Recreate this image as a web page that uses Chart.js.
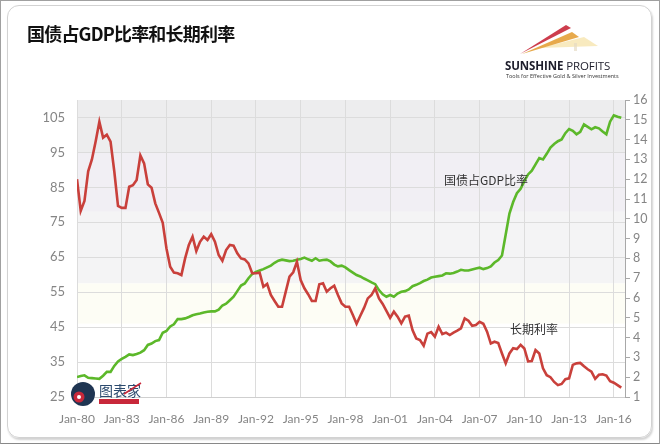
<!DOCTYPE html>
<html>
<head>
<meta charset="utf-8">
<script src="https://cdn.jsdelivr.net/npm/chart.js@4.4.0/dist/chart.umd.min.js"></script>
<style>
    html, body { margin: 0; padding: 0; background: #fff; }
    #frame { position: relative; width: 660px; height: 444px; overflow: hidden; background: #fff; }
    #edge { position: absolute; left: 0; top: 0; width: 660px; height: 444px; box-sizing: border-box; border: 1px solid #a0a0a0; border-bottom-color: #888; }
    #card { position: absolute; left: 7px; top: 5px; width: 643px; height: 431px; border: 1px solid #d2d2d2; border-radius: 12px; box-shadow: 1px 2px 2px rgba(0,0,0,0.18); }
    #chart { position: absolute; left: 0; top: 0; }
    #title { position: absolute; left: 27px; top: 20px; font: bold 18px "Noto Sans CJK SC", sans-serif; color: #111; letter-spacing: -0.8px; }
    .note { position: absolute; font: 12px "Noto Sans CJK SC", sans-serif; color: #333; }
    #logo { position: absolute; left: 500px; top: 20px; width: 130px; height: 40px; }
    #logoText { position: absolute; left: 505px; top: 58px; font: 11.5px "Open Sans", sans-serif; color: #1d1d2b; letter-spacing: -0.1px; white-space: nowrap; }
    #logoSub { position: absolute; left: 506px; top: 72px; font: 5.5px "Open Sans", sans-serif; color: #333; white-space: nowrap; }
    #mark { position: absolute; left: 70px; top: 379px; }
</style>
</head>
<body>
<div id="frame">
    <div id="card"></div>
    <canvas id="chart" width="660" height="444"></canvas>
    <div id="title">国债占GDP比率和长期利率</div>
    <svg id="logo" viewBox="0 0 130 40">
        <polygon points="40,28 84,17 98,26" fill="#f3d88a" opacity="0.55"/>
        <polygon points="22,34 72,12 79,17" fill="#e39a2c" opacity="0.85"/>
        <polygon points="20,34 66,5 71,8" fill="#c8283a" opacity="0.9"/>
        <rect x="74" y="23" width="3" height="8" fill="#e6dcc4" opacity="0.7"/>
    </svg>
    <div id="logoText"><b>SUNSHINE</b> PROFITS</div>
    <div id="logoSub">Tools for Effective Gold &amp; Silver Investments</div>
    <svg id="mark" width="100" height="32" viewBox="0 0 100 32">
        <circle cx="13" cy="15" r="12" fill="#1f3552"/>
        <circle cx="9" cy="18" r="5.5" fill="#c8283a"/>
        <circle cx="9" cy="18" r="2" fill="#fff"/>
        <text x="29" y="17" font-family="Noto Sans CJK SC" font-size="14" fill="#2b4a6e">图表家</text>
        <rect x="29" y="20" width="40" height="5" fill="#c8283a"/>
        <path d="M54 15 L71 4" stroke="#c8283a" stroke-width="1.5"/>
    </svg>
    <div class="note" style="left:444px; top:171px;">国债占GDP比率</div>
    <div class="note" style="left:510px; top:320px;">长期利率</div>
    <div id="edge"></div>
</div>
<script>
// Quarterly observations, first quarter of 1980 to third quarter of 2016
const startYear = 1980;
const quarterCount = 147;

// Government debt as % of GDP (left axis)
const debtToGdp = [
    30.7, 31.0, 31.2, 30.5,   30.4, 30.3, 30.2, 31.1,   32.2, 32.2, 33.9, 35.2,
    35.9, 36.5, 37.2, 37.0,   37.3, 37.7, 38.4, 39.9,   40.3, 41.0, 41.3, 43.4,
    43.9, 45.2, 45.8, 47.3,   47.3, 47.5, 47.9, 48.4,   48.7, 48.9, 49.2, 49.4,
    49.5, 49.5, 50.0, 51.2,   51.7, 52.7, 53.7, 55.3,   56.9, 57.5, 59.0, 60.2,
    60.8, 61.2, 61.6, 62.1,   62.6, 63.4, 64.0, 64.3,   64.1, 63.9, 64.0, 64.3,
    64.5, 64.9, 64.4, 64.0,   64.7, 64.0, 64.2, 64.3,   63.8, 62.9, 62.4, 62.6,
    62.1, 61.3, 60.6, 59.9,   59.5, 58.9, 58.4, 57.8,   57.3, 55.6, 54.4, 53.7,
    54.2, 53.7, 54.6, 55.1,   55.3, 55.8, 56.7, 57.1,   57.6, 58.2, 58.6, 59.2,
    59.4, 59.6, 59.8, 60.4,   60.3, 60.5, 60.9, 61.4,   61.2, 61.2, 61.5, 61.8,
    62.0, 61.6, 61.9, 62.4,   63.5, 64.2, 65.5, 71.5,   77.5, 80.8, 83.3, 84.6,
    86.8, 88.7, 89.8, 91.6,   93.4, 93.0, 94.6, 96.4,   97.4, 98.2, 98.7, 100.5,
    101.7, 101.2, 100.2, 100.9, 103.0, 102.3, 101.6, 102.2, 101.9, 101.0, 100.2, 103.8,
    105.6, 105.2, 104.9
];

// Long-term interest rate, % (right axis)
const longRate = [
    12.0, 10.4, 10.9, 12.4,   13.0, 13.9, 14.9, 14.1,   14.25, 13.9, 12.4, 10.65,
    10.55, 10.55, 11.62, 11.7, 11.96, 13.2, 12.8, 11.74, 11.57, 10.78, 10.3, 9.8,
    8.5, 7.58, 7.28, 7.25,    7.16, 8.0, 8.68, 9.1,     8.37, 8.84, 9.1, 8.93,
    9.22, 8.84, 8.17, 7.88,   8.42, 8.68, 8.64, 8.26,   8.0, 7.95, 7.75, 7.25,
    7.25, 7.28, 6.57, 6.71,   6.15, 5.85, 5.56, 5.56,   6.32, 7.08, 7.3, 7.83,
    6.91, 6.49, 6.19, 5.85,   5.85, 6.69, 6.74, 6.32,   6.49, 6.62, 6.15, 5.73,
    5.56, 5.56, 5.14, 4.7,    5.1, 5.5, 5.98, 6.15,     6.49, 5.98, 5.7, 5.35,
    5.0, 5.31, 5.06, 4.72,    5.06, 5.11, 4.38, 3.96,   3.88, 3.59, 4.2, 4.28,
    4.05, 4.55, 4.18, 4.25,   4.13, 4.25, 4.35, 4.47,   4.97, 4.85, 4.6, 4.64,
    4.8, 4.7, 4.3, 3.7,       3.79, 3.73, 3.2, 2.7,     3.2, 3.46, 3.42, 3.63,
    3.45, 2.8, 2.82, 3.37,    3.2, 2.45, 2.1, 2.0,      1.76, 1.6, 1.66, 1.9,
    1.94, 2.62, 2.7, 2.72,    2.55, 2.4, 2.28, 1.92,    2.12, 2.15, 2.08, 1.8,
    1.72, 1.6, 1.47
];

// Tick labels
const xTickYears = [1980, 1983, 1986, 1989, 1992, 1995, 1998, 2001, 2004, 2007, 2010, 2013, 2016];
const leftTicks = [25, 35, 45, 55, 65, 75, 85, 95, 105];
const rightTicks = [1, 2, 3, 4, 5, 6, 7, 8, 9, 10, 11, 12, 13, 14, 15, 16];

// x value of each quarter (decimal years)
const quarters = [];
for (let i = 0; i < quarterCount; i++) {
    quarters.push(startYear + i / 4);
}

// Soft background bands behind the plot
const bandPlugin = {
    id: 'bands',
    beforeDraw(chart) {
        const { ctx, chartArea: a, scales: { y } } = chart;
        const bands = [
            [110, 95, '#ededee'],
            [95, 78, '#f1eff4'],
            [78, 57.5, '#f4f4f5'],
            [57.5, 46, '#fdfdf5']
        ];
        ctx.save();
        bands.forEach(([hi, lo, color]) => {
            const top = y.getPixelForValue(hi);
            const bottom = y.getPixelForValue(lo);
            ctx.fillStyle = color;
            ctx.fillRect(a.left, top, a.right - a.left, bottom - top);
        });
        ctx.restore();
    }
};

const tickFont = { family: 'Lato', size: 12 };
const tickColor = '#858585';

new Chart(document.getElementById('chart').getContext('2d'), {
    type: 'line',
    data: {
        labels: quarters,
        datasets: [
            {
                label: '长期利率',
                data: longRate,
                yAxisID: 'y1',
                borderColor: '#c9403b',
                borderWidth: 2.6,
                pointRadius: 0,
                tension: 0
            },
            {
                label: '国债占GDP比率',
                data: debtToGdp,
                yAxisID: 'y',
                borderColor: '#5cb82a',
                borderWidth: 2.6,
                pointRadius: 0,
                tension: 0
            }
        ]
    },
    options: {
        responsive: false,
        animation: false,
        devicePixelRatio: 1,
        layout: { padding: { top: 100, left: 0, right: 0, bottom: 0 } },
        plugins: {
            legend: { display: false },
            tooltip: { enabled: false }
        },
        scales: {
            x: {
                type: 'linear',
                min: 1980,
                max: 2016.75,
                afterBuildTicks: (scale) => {
                    scale.ticks = xTickYears.map(v => ({ value: v }));
                },
                afterFit: (scale) => { scale.height = 47; },
                grid: { color: '#dcdcdc', drawTicks: false },
                border: { display: true, color: '#cfcfcf' },
                ticks: {
                    font: tickFont,
                    color: tickColor,
                    padding: 15,
                    maxRotation: 0,
                    autoSkip: false,
                    callback: (v) => 'Jan-' + String(v).slice(2)
                }
            },
            y: {
                position: 'left',
                min: 25,
                max: 110,
                afterBuildTicks: (scale) => {
                    scale.ticks = leftTicks.map(v => ({ value: v }));
                },
                afterFit: (scale) => { scale.width = 77; },
                grid: { color: '#dcdcdc', drawTicks: false },
                border: { display: false },
                ticks: { font: { family: 'Lato', size: 13 }, color: tickColor, padding: 12 }
            },
            y1: {
                position: 'right',
                min: 1,
                max: 16,
                afterBuildTicks: (scale) => {
                    scale.ticks = rightTicks.map(v => ({ value: v }));
                },
                afterFit: (scale) => { scale.width = 35; },
                grid: { drawOnChartArea: false, drawTicks: true, tickLength: 5, tickColor: '#a8a8a8' },
                border: { display: true, color: '#a8a8a8' },
                ticks: { font: { family: 'Lato', size: 12.5 }, color: tickColor, padding: 3 }
            }
        }
    },
    plugins: [bandPlugin]
});
</script>
</body>
</html>
